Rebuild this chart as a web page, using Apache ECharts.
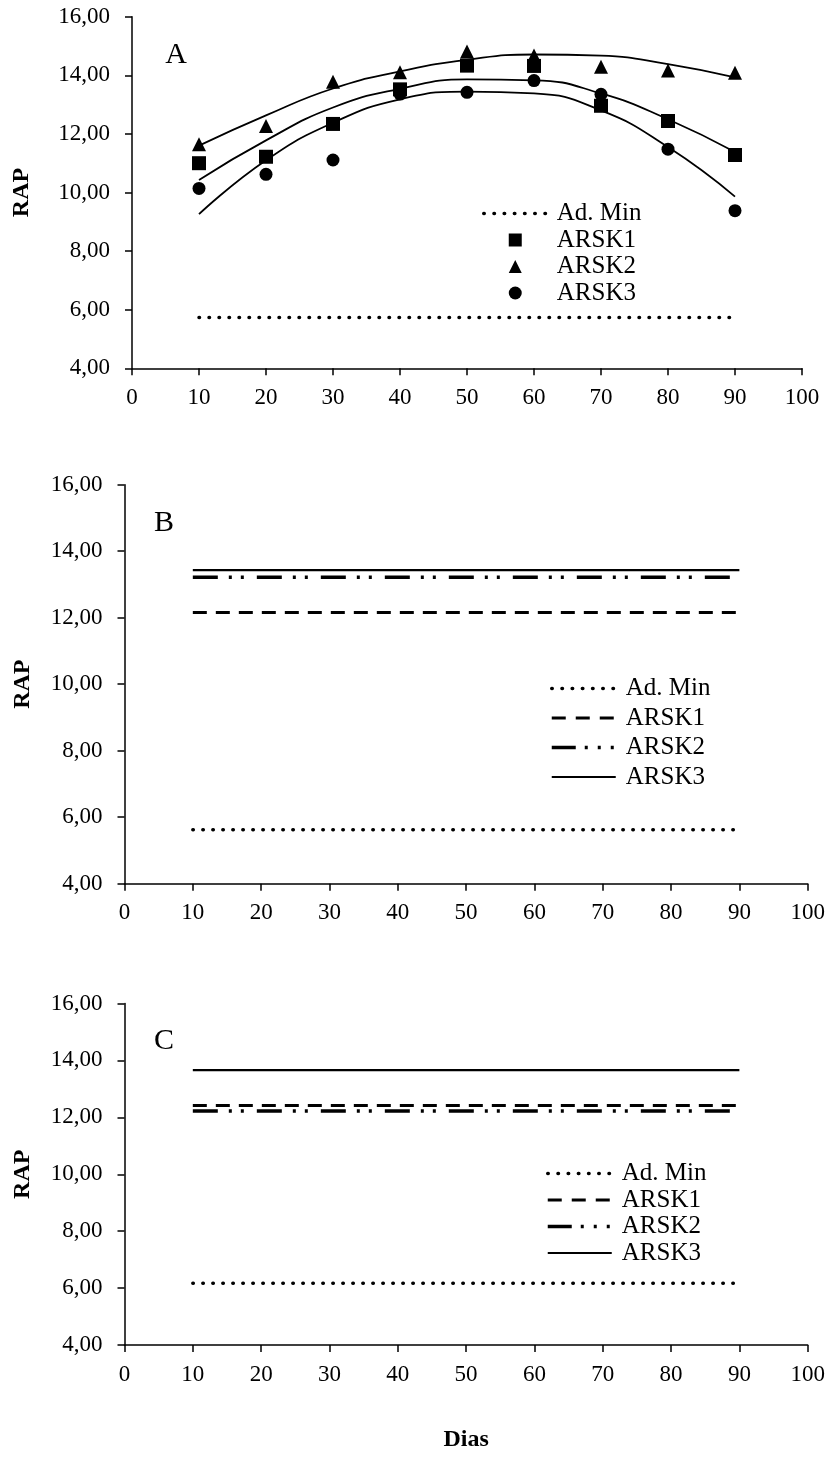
<!DOCTYPE html>
<html><head><meta charset="utf-8">
<script src="https://cdn.jsdelivr.net/npm/echarts@6/dist/echarts.min.js"></script>
<style>html,body{margin:0;padding:0;background:#fff}#c{width:830px;height:1463px}</style>
</head><body><div id="c"></div>
<script>
// ---------- data ----------
const days = [10, 20, 30, 40, 50, 60, 70, 80, 90];
const seriesNames = ['Ad. Min', 'ARSK1', 'ARSK2', 'ARSK3'];
const panelLabels = ['A', 'B', 'C'];

// Panel A: observed values
const aArsk1 = [11.00, 11.22, 12.34, 13.52, 14.33, 14.32, 12.96, 12.44, 11.28];
const aArsk2 = [11.65, 12.27, 13.78, 14.10, 14.81, 14.68, 14.29, 14.16, 14.09];
const aArsk3 = [10.14, 10.62, 11.11, 13.36, 13.42, 13.82, 13.35, 11.48, 9.38];
const aAdMin = [5.73, 5.73, 5.73, 5.73, 5.73, 5.73, 5.73, 5.73, 5.73];
// Panel A: trend curves
const aFit1 = [10.43, 11.78, 12.90, 13.54, 13.86, 13.83, 13.38, 12.50, 11.38];
const aFit2 = [11.60, 12.63, 13.55, 14.13, 14.53, 14.71, 14.67, 14.38, 13.93];
const aFit3 = [9.26, 11.10, 12.38, 13.18, 13.44, 13.38, 12.80, 11.55, 9.86];

// Panel B
const bAdMin = [5.62, 5.62, 5.62, 5.62, 5.62, 5.62, 5.62, 5.62, 5.62];
const bArsk1 = [12.16, 12.16, 12.16, 12.16, 12.16, 12.16, 12.16, 12.16, 12.16];
const bArsk2 = [13.22, 13.22, 13.22, 13.22, 13.22, 13.22, 13.22, 13.22, 13.22];
const bArsk3 = [13.43, 13.43, 13.43, 13.43, 13.43, 13.43, 13.43, 13.43, 13.43];

// Panel C
const cAdMin = [6.17, 6.17, 6.17, 6.17, 6.17, 6.17, 6.17, 6.17, 6.17];
const cArsk1 = [12.42, 12.42, 12.42, 12.42, 12.42, 12.42, 12.42, 12.42, 12.42];
const cArsk2 = [12.22, 12.22, 12.22, 12.22, 12.22, 12.22, 12.22, 12.22, 12.22];
const cArsk3 = [13.66, 13.66, 13.66, 13.66, 13.66, 13.66, 13.66, 13.66, 13.66];

// axes
const xMin = 0, xMax = 100, xStep = 10;
const yMin = 4, yMax = 16, yStep = 2;

// ---------- chart ----------
const FONT = "'Liberation Serif','Times New Roman',serif";
const zip = (xs, ys) => xs.map((x, i) => [x, ys[i]]);

const grids = [
  { left: 132, width: 670, top: 16.7, height: 351.6 },
  { left: 124.5, width: 683.2, top: 484.7, height: 399 },
  { left: 124.5, width: 683.2, top: 1003.5, height: 341.5 }
];

const axisLine = { show: true, onZero: false, lineStyle: { color: '#000', width: 1.5 } };
const axisTick = { show: true, length: 7, lineStyle: { color: '#000', width: 1.5 } };

const xAxes = grids.map((g, i) => ({
  type: 'value', gridIndex: i, min: xMin, max: xMax, interval: xStep,
  axisLine, axisTick, splitLine: { show: false },
  axisLabel: { color: '#000', fontFamily: FONT, fontSize: 23, margin: 18 },
  name: i === 2 ? 'Dias' : '', nameLocation: 'middle', nameGap: 83,
  nameTextStyle: { color: '#000', fontFamily: FONT, fontSize: 24, fontWeight: 'bold' }
}));
const yAxes = grids.map((g, i) => ({
  type: 'value', gridIndex: i, min: yMin, max: yMax, interval: yStep,
  axisLine, axisTick, splitLine: { show: false },
  axisLabel: { color: '#000', fontFamily: FONT, fontSize: 23, margin: 22,
    formatter: v => v.toFixed(2).replace('.', ',') },
  name: 'RAP', nameLocation: 'middle', nameGap: i === 0 ? 98 : 90,
  nameTextStyle: { color: '#000', fontFamily: FONT, fontSize: 24, fontWeight: 'bold' }
}));

const dotted = { color: '#000', width: 3.5, type: [0.5, 9.5], cap: 'round' };
const dashed = { color: '#000', width: 3, type: [14, 9] };
const dashDotDot = { color: '#000', width: 3.5, type: [25, 11, 3, 9, 3, 13] };
const solid = { color: '#000', width: 2.2, type: 'solid' };

function lineS(name, idx, ys, style, smooth) {
  return { name, type: 'line', xAxisIndex: idx, yAxisIndex: idx, data: zip(days, ys),
    symbol: 'none', smooth: !!smooth, lineStyle: style, itemStyle: { color: '#000' },
    silent: true, z: 2 };
}
function scatterS(name, ys, symbol, size) {
  return { name, type: 'scatter', xAxisIndex: 0, yAxisIndex: 0, data: zip(days, ys),
    symbol, symbolSize: size, itemStyle: { color: '#000', opacity: 1 }, z: 5 };
}

const fitStyle = { color: '#000', width: 1.8, type: 'solid' };
const series = [
  lineS('A|' + seriesNames[0], 0, aAdMin, dotted),
  scatterS('A|' + seriesNames[1], aArsk1, 'rect', 14),
  scatterS('A|' + seriesNames[2], aArsk2, 'triangle', 14),
  scatterS('A|' + seriesNames[3], aArsk3, 'circle', 13),
  lineS('A|fit1', 0, aFit1, fitStyle, true),
  lineS('A|fit2', 0, aFit2, fitStyle, true),
  lineS('A|fit3', 0, aFit3, fitStyle, true),
  lineS('B|' + seriesNames[0], 1, bAdMin, dotted),
  lineS('B|' + seriesNames[1], 1, bArsk1, dashed),
  lineS('B|' + seriesNames[2], 1, bArsk2, dashDotDot),
  lineS('B|' + seriesNames[3], 1, bArsk3, solid),
  lineS('C|' + seriesNames[0], 2, cAdMin, dotted),
  lineS('C|' + seriesNames[1], 2, cArsk1, dashed),
  lineS('C|' + seriesNames[2], 2, cArsk2, dashDotDot),
  lineS('C|' + seriesNames[3], 2, cArsk3, solid)
];

const legendText = { color: '#000', fontFamily: FONT, fontSize: 25, padding: [0, 0, 0, 5] };
const fmt = n => n.split('|')[1];
const hideSym = { color: 'transparent', opacity: 0, borderWidth: 0 };
const lgDotted = { color: '#000', width: 3.5, type: [0.5, 9.7], cap: 'round' };
const lgDashed = { color: '#000', width: 3, type: [14, 10], cap: 'butt' };
const lgDashDot = { color: '#000', width: 3.5, type: [24, 9, 3, 10, 3, 10, 3, 20], cap: 'butt' };
const lgSolid = { color: '#000', width: 2.2, type: 'solid', cap: 'butt' };
const lineLegendData = p => [
  { name: p + '|' + seriesNames[0], itemStyle: hideSym, lineStyle: lgDotted },
  { name: p + '|' + seriesNames[1], itemStyle: hideSym, lineStyle: lgDashed },
  { name: p + '|' + seriesNames[2], itemStyle: hideSym, lineStyle: lgDashDot },
  { name: p + '|' + seriesNames[3], itemStyle: hideSym, lineStyle: lgSolid }
];
const legends = [
  { left: 477, top: 196, orient: 'vertical', itemWidth: 63, itemHeight: 13, itemGap: 1.5,
    selectedMode: false, textStyle: legendText, formatter: fmt,
    data: [
      { name: 'A|' + seriesNames[0], itemStyle: hideSym, lineStyle: lgDotted },
      { name: 'A|' + seriesNames[1], icon: 'path://M0 0H10V10H0Z' },
      { name: 'A|' + seriesNames[2], icon: 'path://M5 0L10 10H0Z' },
      { name: 'A|' + seriesNames[3], icon: 'circle' }
    ] },
  { left: 545, top: 671, orient: 'vertical', itemWidth: 64, itemHeight: 13, itemGap: 4.5,
    selectedMode: false, textStyle: legendText, formatter: fmt,
    data: lineLegendData('B') },
  { left: 541, top: 1156, orient: 'vertical', itemWidth: 64, itemHeight: 13, itemGap: 1.5,
    selectedMode: false, textStyle: legendText, formatter: fmt,
    data: lineLegendData('C') }
];

const labelPos = [[176, 55], [164, 523], [164, 1041]];
const graphic = panelLabels.map((t, i) => ({
  type: 'text', x: labelPos[i][0], y: labelPos[i][1],
  style: { text: t, fill: '#000', font: '30px ' + FONT, textAlign: 'center', textVerticalAlign: 'middle' }
}));

const chart = echarts.init(document.getElementById('c'), null, { renderer: 'canvas' });
chart.setOption({
  backgroundColor: '#fff',
  animation: false,
  grid: grids,
  xAxis: xAxes,
  yAxis: yAxes,
  legend: legends,
  graphic,
  series
});
</script>
</body></html>
